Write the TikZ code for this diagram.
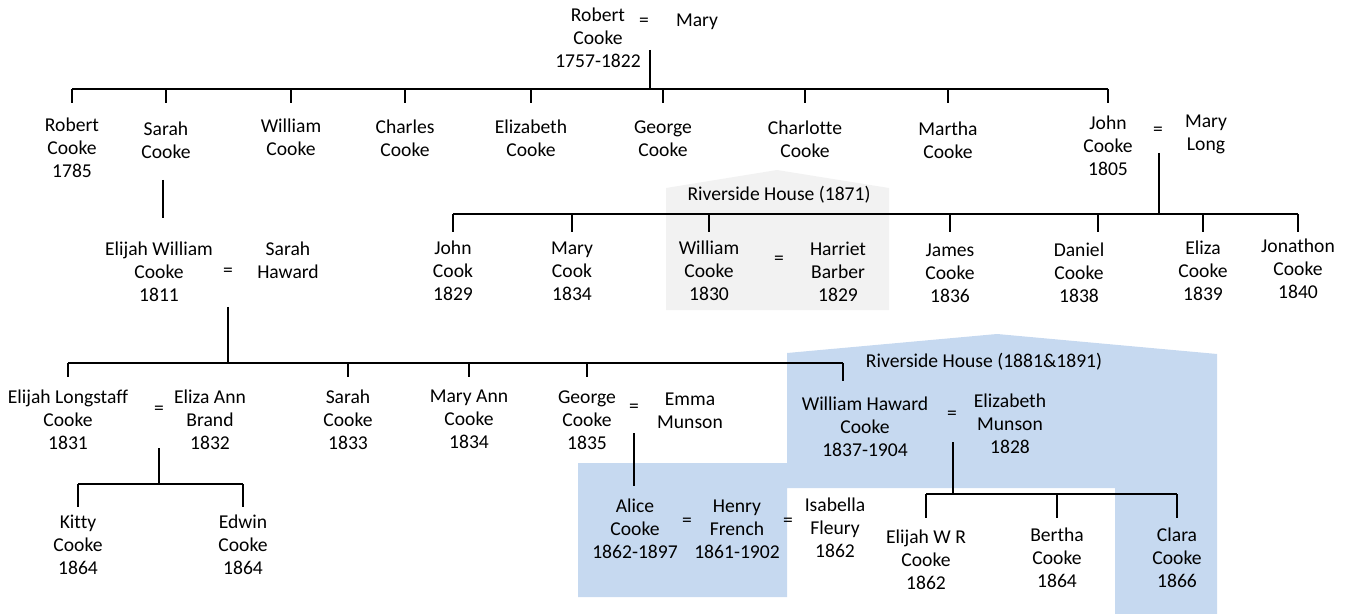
\documentclass[tikz,border=0pt]{standalone}
\usepackage{fontspec}
\setmainfont[Ligatures=NoCommon]{Carlito}
\definecolor{housegrey}{RGB}{242,242,242}
\definecolor{houseblue}{RGB}{198,217,240}

\begin{document}
\begin{tikzpicture}[x=0.5pt, y=-0.5pt,
    person/.style={align=center, inner sep=0pt, font=\fontsize{9.8}{11.5}\selectfont},
    wed/.style={inner sep=0pt, font=\fontsize{9.8}{11.5}\selectfont},
    line/.style={line width=0.9pt}]
    \useasboundingbox (0,0) rectangle (1352,614);

    % Riverside House shading
    \fill[housegrey] (666,188) -- (777,170) -- (889,188) -- (889,310) -- (666,310) -- cycle;
    \fill[houseblue] (787,353) -- (997,334) -- (1217,354) -- (1217,614) -- (1115,614)
        -- (1115,488) -- (787,488) -- (787,597) -- (578,597) -- (578,463) -- (787,463) -- cycle;
    \node[person] (rh1) at (779,195) {Riverside House (1871)};
    \node[person] (rh2) at (984,362) {Riverside House (1881\&1891)};

    % Robert and Mary
    \node[person] (rob0) at (598,38) {Robert\\Cooke\\1757-1822};
    \node[wed] (eq0) at (644,22) {=};
    \node[person] (mary0) at (697,22) {Mary};

    % Their children
    \node[person] (rc1) at (72,148) {Robert\\Cooke\\1785};
    \node[person] (sc1) at (166,140.5) {Sarah\\Cooke};
    \node[person] (wc1) at (291,137.5) {William\\Cooke};
    \node[person] (cc1) at (405,138.5) {Charles\\Cooke};
    \node[person] (ec1) at (531,138.5) {Elizabeth\\Cooke};
    \node[person] (gc1) at (663,138.5) {George\\Cooke};
    \node[person] (chc1) at (805,139.5) {Charlotte\\Cooke};
    \node[person] (mc1) at (948,140.5) {Martha\\Cooke};
    \node[person] (jc1) at (1108,146) {John\\Cooke\\1805};
    \node[wed] (eq1) at (1158,131) {=};
    \node[person] (ml1) at (1206,134.5) {Mary\\Long};

    \coordinate (top1) at (650,50);
    \coordinate (bar1) at (650,89);
    \draw[line] (top1) -- (bar1);
    \draw[line] (rc1 |- bar1) -- (jc1 |- bar1)
        (rc1 |- bar1) -- ++(0,14) (sc1 |- bar1) -- ++(0,14) (wc1 |- bar1) -- ++(0,14)
        (cc1 |- bar1) -- ++(0,14) (ec1 |- bar1) -- ++(0,14) (gc1 |- bar1) -- ++(0,14)
        (chc1 |- bar1) -- ++(0,14) (mc1 |- bar1) -- ++(0,14) (jc1 |- bar1) -- ++(0,14);

    % Sarah's son
    \node[person] (ewc) at (159,272) {Elijah William\\Cooke\\1811};
    \node[wed] (eq2) at (228,272) {=};
    \node[person] (sh) at (288,260.5) {Sarah\\Haward};
    \coordinate (sarA) at (163,180);
    \coordinate (sarB) at (163,218);
    \draw[line] (sarA) -- (sarB);

    % John and Mary Long's children
    \node[person] (jck) at (453,271) {John\\Cook\\1829};
    \node[person] (mck) at (572,271) {Mary\\Cook\\1834};
    \node[person] (wck) at (709,271) {William\\Cooke\\1830};
    \node[wed] (eq3) at (779,260) {=};
    \node[person] (hb) at (838,272) {Harriet\\Barber\\1829};
    \node[person] (jmc) at (950,273) {James\\Cooke\\1836};
    \node[person] (dc) at (1079,273) {Daniel\\Cooke\\1838};
    \node[person] (elc) at (1203,271) {Eliza\\Cooke\\1839};
    \node[person] (jnc) at (1298,269) {Jonathon\\Cooke\\1840};

    \coordinate (top2) at (1159,153);
    \coordinate (bar2) at (1159,214);
    \coordinate (dcT) at ([xshift=9.5pt]dc.center);
    \draw[line] (top2) -- (bar2);
    \draw[line] (jck |- bar2) -- (jnc |- bar2)
        (jck |- bar2) -- ++(0,18) (mck |- bar2) -- ++(0,18) (wck |- bar2) -- ++(0,18)
        (jmc |- bar2) -- ++(0,18) (dcT |- bar2) -- ++(0,18) (elc |- bar2) -- ++(0,18)
        (jnc |- bar2) -- ++(0,18);

    % Elijah William and Sarah's children
    \node[person] (elc3) at (68,420) {Elijah Longstaff\\Cooke\\1831};
    \node[wed] (eq4) at (159,410) {=};
    \node[person] (eab) at (210,420) {Eliza Ann\\Brand\\1832};
    \node[person] (sc3) at (348,420) {Sarah\\Cooke\\1833};
    \node[person] (mac) at (469,419) {Mary Ann\\Cooke\\1834};
    \node[person] (gc3) at (587,420) {George\\Cooke\\1835};
    \node[wed] (eq5) at (634,408) {=};
    \node[person] (em) at (690,411) {Emma\\Munson};
    \node[person] (whc) at (865,427) {William Haward\\Cooke\\1837-1904};
    \node[wed] (eq6) at (952,415) {=};
    \node[person] (ezm) at (1010,424) {Elizabeth\\Munson\\1828};

    \coordinate (top3) at (228,307);
    \coordinate (bar3) at (228,363);
    \coordinate (whT) at ([xshift=-11pt]whc.center);
    \draw[line] (top3) -- (bar3);
    \draw[line] (elc3 |- bar3) -- (whT |- bar3)
        (elc3 |- bar3) -- ++(0,14) (sc3 |- bar3) -- ++(0,14) (mac |- bar3) -- ++(0,14)
        (gc3 |- bar3) -- ++(0,14) (whT |- bar3) -- ++(0,18);

    % Elijah Longstaff's children
    \node[person] (kc) at (78,545) {Kitty\\Cooke\\1864};
    \node[person] (edc) at (243,545) {Edwin\\Cooke\\1864};
    \coordinate (top4) at (159,448);
    \coordinate (bar4) at (159,484);
    \draw[line] (top4) -- (bar4);
    \draw[line] (kc |- bar4) -- (edc |- bar4)
        (kc |- bar4) -- ++(0,23) (edc |- bar4) -- ++(0,23);

    % George's daughter
    \node[person] (ac) at (635,529) {Alice\\Cooke\\1862-1897};
    \node[wed] (eq7) at (687,522) {=};
    \node[person] (hf) at (737,529) {Henry\\French\\1861-1902};
    \node[wed] (eq8) at (788,522) {=};
    \node[person] (isf) at (835,528) {Isabella\\Fleury\\1862};
    \coordinate (top5) at (634,433);
    \coordinate (bot5) at (634,486);
    \draw[line] (top5) -- (bot5);

    % William Haward's children
    \node[person] (ewr) at (926,560) {Elijah W R\\Cooke\\1862};
    \node[person] (bc) at (1057,558) {Bertha\\Cooke\\1864};
    \node[person] (clc) at (1177,558) {Clara\\Cooke\\1866};
    \coordinate (top6) at (953,442);
    \coordinate (bar6) at (953,494);
    \draw[line] (top6) -- (bar6);
    \draw[line] (ewr |- bar6) -- (clc |- bar6)
        (ewr |- bar6) -- ++(0,24) (bc |- bar6) -- ++(0,24) (clc |- bar6) -- ++(0,24);
\end{tikzpicture}
\end{document}
